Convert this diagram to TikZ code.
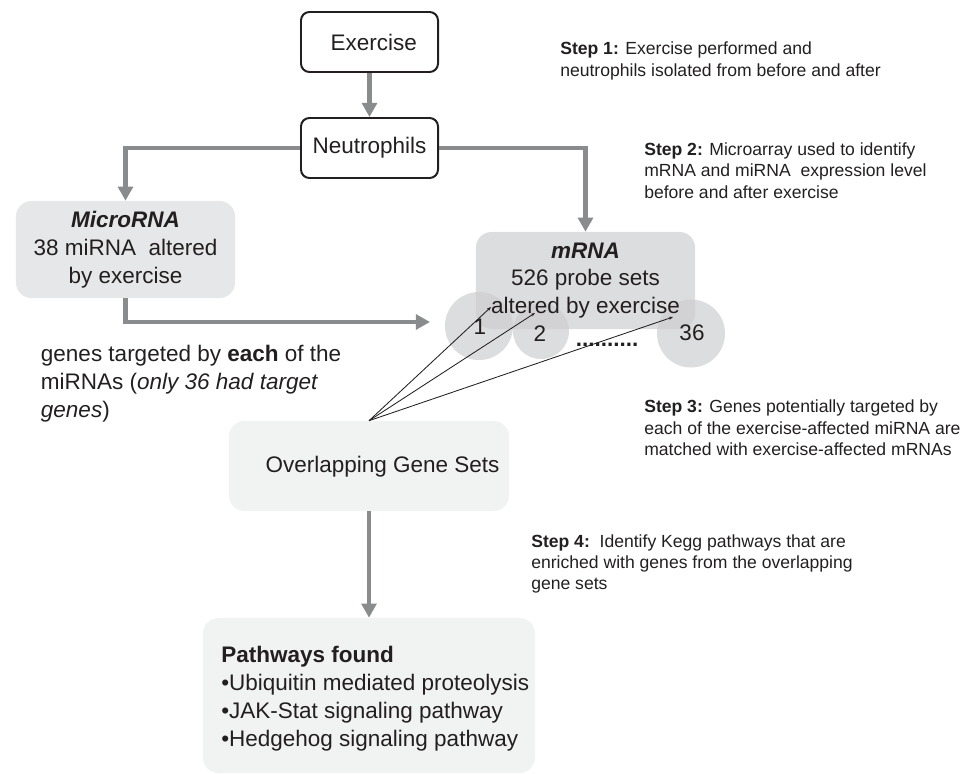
\documentclass[tikz,border=0pt]{standalone}
\usepackage{fontspec}
\setmainfont{Liberation Sans}
\usepackage{tikz}
\usetikzlibrary{positioning, arrows.meta}

\definecolor{inkcol}{RGB}{35,31,32}
\definecolor{arrowgray}{RGB}{138,139,141}
\definecolor{mirnafill}{RGB}{230,231,232}
\definecolor{setfill}{RGB}{205,206,208}
\definecolor{paefill}{RGB}{241,242,242}

\newcommand{\bigtxt}{\fontsize{16}{19.8}\selectfont}
\newcommand{\steptxt}{\fontsize{12.5}{15.2}\selectfont}

\begin{document}
\begin{tikzpicture}[x=0.025cm, y=-0.025cm,
  every node/.style={text=inkcol},
  whitebox/.style={rectangle, draw=inkcol, line width=1.4pt, rounded corners=6pt,
              fill=white, minimum width=3.425cm, minimum height=1.5cm, font=\bigtxt},
  graybox/.style={rectangle, rounded corners=11pt, inner sep=0pt, font=\bigtxt, align=center},
  setcircle/.style={circle, fill=setfill, fill opacity=0.7, inner sep=0pt},
  steptext/.style={anchor=west, align=left, font=\steptxt, inner sep=0pt},
  arrow/.style={-{Triangle[length=10pt, width=10.5pt]}, line width=3.5pt, draw=arrowgray},
  thinarrow/.style={-{Stealth[length=3pt]}, line width=0.6pt, draw=inkcol}
]
\useasboundingbox (0,0) rectangle (975,774);

% top of the chain
\node[whitebox] (exercise) at (369.5,42)  {\hspace*{6pt}Exercise};
\node[whitebox] (neutro)   at (369.5,148) {Neutrophils};

% the two arrays
\node[graybox, fill=mirnafill, minimum width=5.475cm, minimum height=2.425cm]
  (mirna) at (125.5,249.5) {\textbf{\textit{MicroRNA}}\\38 miRNA\ \ altered\\by exercise};

\node[setcircle, minimum size=1.7cm] (c1)  at (479,326) {};
\node[setcircle, minimum size=1.4cm] (c2)  at (541,331) {};
\node[setcircle, minimum size=1.7cm] (c36) at (691,333.5) {};

\node[graybox, fill=setfill, fill opacity=0.7, text opacity=1,
      minimum width=5.475cm, minimum height=2.425cm]
  (mrna) at (585.5,280.5) {\textbf{\textit{mRNA}}\\526 probe sets\\altered by exercise};

\node[font=\bigtxt] (n1)  at (480,327) {1};
\node[font=\bigtxt] (n2)  at (540,334) {2};
\node[font=\bigtxt] (n36) at (692,333) {36};
\node[font=\bigtxt, inner sep=0pt] (dots) at (607,345) {\textbf{..........}};

\node[font=\bigtxt, anchor=west, align=left] (targets) at (36,384)
  {genes targeted by \textbf{each} of the\\miRNAs (\textit{only 36 had target}\\\textit{genes})};

% overlap and result
\node[graybox, fill=paefill, minimum width=7cm, minimum height=2.25cm] (overlap) at (369,466) {};
\node[font=\bigtxt] (overlaptext) at (382.5,467) {Overlapping Gene Sets};

\node[graybox, fill=paefill, minimum width=8.3cm, minimum height=3.875cm] (pathways) at (369,695.5) {};
\node[font=\bigtxt, anchor=west, align=left, inner sep=0pt] (pathtext) at (221,698.5)
  {\textbf{Pathways found}\\\textbullet Ubiquitin mediated proteolysis\\
   \textbullet JAK-Stat signaling pathway\\\textbullet Hedgehog signaling pathway};

% step notes
\node[steptext] (step1) at (560,61)
  {\textbf{Step 1:} Exercise performed and\\neutrophils isolated from before and after};
\node[steptext] (step2) at (644,170.5)
  {\textbf{Step 2:} Microarray used to identify\\mRNA and miRNA\ \ expression level\\before and after exercise};
\node[steptext] (step3) at (644,428)
  {\textbf{Step 3:} Genes potentially targeted by\\each of the exercise-affected miRNA are\\matched with exercise-affected mRNAs};
\node[steptext] (step4) at (531,564)
  {\textbf{Step 4:}\ \ Identify Kegg pathways that are\\enriched with genes from the overlapping\\gene sets};

\coordinate (mirnaend) at (430,322);
\coordinate (t1)  at (491,307);
\coordinate (t2)  at (535,313);
\coordinate (t36) at (673,317);

\draw[arrow] (exercise) -- (neutro);
\draw[arrow] (neutro.west) -| (mirna.north);
\draw[arrow] (neutro.east) -| (mrna.north);
\draw[arrow] (mirna.south) |- (mirnaend);
\draw[thinarrow] (overlap.north) -- (t1);
\draw[thinarrow] (overlap.north) -- (t2);
\draw[thinarrow] (overlap.north) -- (t36);
\draw[arrow] (overlap) -- (pathways);
\end{tikzpicture}
\end{document}
